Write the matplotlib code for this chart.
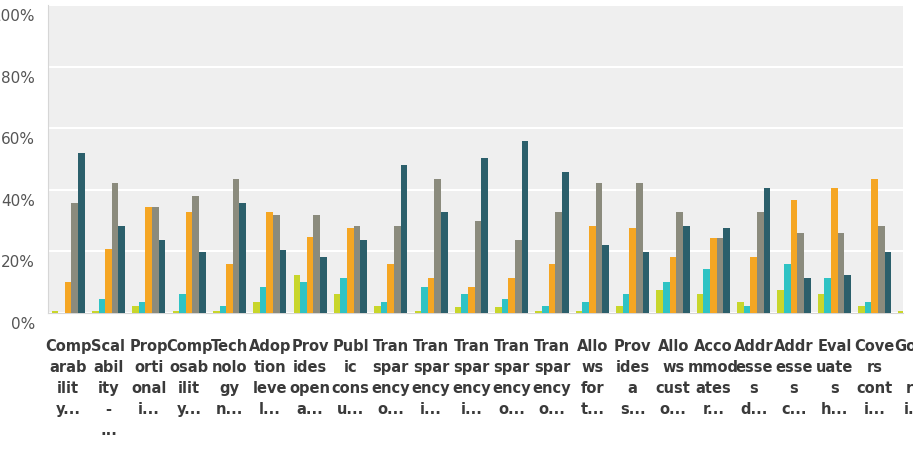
import numpy as np
import matplotlib
matplotlib.use("Agg")
import matplotlib.pyplot as plt
from matplotlib.transforms import ScaledTranslation, blended_transform_factory

# category labels, already cut and wrapped like in the source chart
labels = [
    "Comp\narab\nilit\ny...", "Scal\nabil\nity\n-\n...", "Prop\norti\nonal\ni...",
    "Comp\nosab\nilit\ny...", "Tech\nnolo\ngy\nn...", "Adop\ntion\nleve\nl...",
    "Prov\nides\nopen\na...", "Publ\nic\ncons\nu...", "Tran\nspar\nency\no...",
    "Tran\nspar\nency\ni...", "Tran\nspar\nency\ni...", "Tran\nspar\nency\no...",
    "Tran\nspar\nency\no...", "Allo\nws\nfor\nt...", "Prov\nides\na\ns...",
    "Allo\nws\ncust\no...", "Acco\nmmod\nates\nr...", "Addr\nesse\ns\nd...",
    "Addr\nesse\ns\nc...", "Eval\nuate\ns\nh...", "Cove\nrs\ncont\ni...",
    "Gove\n\nrn\ni...",
]

# values in percent, five series per category
s_lime = [0.5, 0.5, 2.2, 0.5, 0.5, 3.5, 12.3, 6.0, 2.2, 0.5, 2.0, 2.0, 0.5, 0.5,
          2.1, 7.5, 6.0, 3.5, 7.5, 6.0, 2.1, 0.5]
s_cyan = [0.0, 4.5, 3.5, 6.0, 2.1, 8.4, 9.9, 11.3, 3.5, 8.4, 6.0, 4.5, 2.1, 3.5,
          6.0, 9.9, 14.3, 2.1, 15.7, 11.3, 3.5, np.nan]
s_orange = [9.9, 20.6, 34.2, 32.7, 15.7, 32.7, 24.5, 27.4, 15.7, 11.3, 8.4, 11.3, 15.7, 28.3,
            27.4, 18.2, 24.4, 18.2, 36.6, 40.5, 43.4, np.nan]
s_gray = [35.8, 42.0, 34.2, 38.0, 43.6, 31.8, 31.8, 28.3, 28.3, 43.4, 29.9, 23.6, 32.7, 42.0,
          42.0, 32.7, 24.4, 32.7, 25.9, 25.9, 28.3, np.nan]
s_dark = [51.8, 28.3, 23.5, 19.6, 35.8, 20.5, 18.2, 23.5, 47.9, 32.7, 50.4, 55.7, 45.8, 22.0,
          19.6, 28.3, 27.4, 40.5, 11.3, 12.3, 19.6, np.nan]

series = [s_lime, s_cyan, s_orange, s_gray, s_dark]
colors = ["#c8d62b", "#2fc3c4", "#f5a623", "#8b8b7d", "#2b5f6b"]

fig = plt.figure(figsize=(9.13, 4.55), dpi=100)
ax = fig.add_axes([48 / 913, 142.3 / 455, 855 / 913, 307.7 / 455])
ax.set_facecolor("#efefef")

x = np.arange(len(labels))
w = 0.165
for i, (vals, c) in enumerate(zip(series, colors)):
    ax.bar(x + (i - 2) * w, vals, width=w, color=c, zorder=3)

ax.set_xlim(-0.5, 20.7)
ax.set_ylim(0, 100)
ax.set_yticks([0, 20, 40, 60, 80, 100])
ax.set_yticklabels(["0%", "20%", "40%", "60%", "80%", "100%"])
ax.grid(axis="y", color="white", linewidth=1.5, zorder=0)
# pad is in points: ~13 px gap to the axis
ax.tick_params(axis="y", length=0, pad=9.4, labelsize=11, labelcolor="#555555")
for lab in ax.get_yticklabels():
    lab.set_transform(lab.get_transform() + ScaledTranslation(0, -10 / 100, fig.dpi_scale_trans))

ax.set_xticks([])
for side in ["top", "right"]:
    ax.spines[side].set_visible(False)
ax.spines["left"].set_color("#d6d6d6")
ax.spines["bottom"].set_color("#d6d6d6")

# x labels drawn as text so the clipped last one still shows at the edge
trans = blended_transform_factory(ax.transData, ax.transAxes)
for xi, lab in zip(x, labels):
    ax.text(xi, -0.085, lab, transform=trans, ha="center", va="top",
            fontsize=10.5, fontweight="bold", color="#3a3a3a",
            linespacing=1.5, clip_on=False)

fig.savefig("out.png", dpi=100)
